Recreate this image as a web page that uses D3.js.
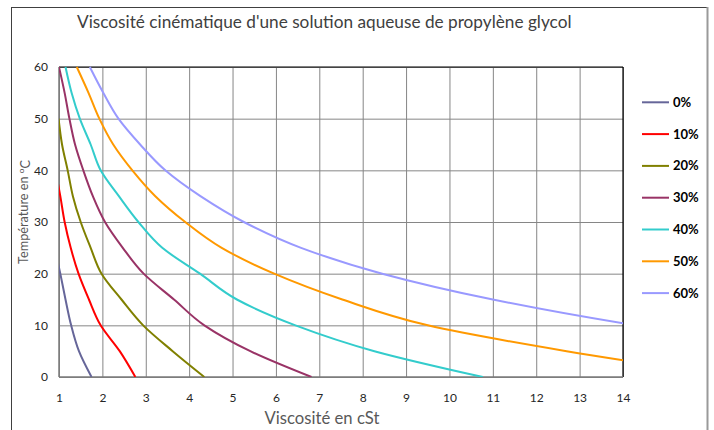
<!DOCTYPE html>
<html><head><meta charset="utf-8">
<script src="https://cdn.jsdelivr.net/npm/d3@7"></script>
<style>
html,body{margin:0;padding:0;background:#fff;}
svg{display:block;font-family:Lato, "Open Sans", sans-serif;}
</style></head>
<body>
<svg id="chart" width="714" height="430"></svg>
<script>
// ---------- data ----------
const temperatures = [0, 5, 10, 15, 20, 25, 30, 35, 40, 45, 50, 55, 60];
const seriesNames = ["0%", "10%", "20%", "30%", "40%", "50%", "60%"];
const seriesColors = ["#666699", "#ff0000", "#808000", "#993366", "#33cccc", "#ff9900", "#9999ff"];
const visc0  = [1.75, 1.46, 1.28, 1.15, 1.03, 0.90, null, null, null, null, null, null, null];
const visc10 = [2.76, 2.40, 1.96, 1.69, 1.45, 1.27, 1.13, 1.03, 0.92, null, null, null, null];
const visc20 = [4.35, 3.62, 2.94, 2.44, 1.98, 1.73, 1.50, 1.32, 1.20, 1.07, 0.99, null, null];
const visc30 = [6.82, 5.41, 4.35, 3.65, 2.95, 2.47, 2.06, 1.78, 1.56, 1.37, 1.24, 1.13, 1.00];
const visc40 = [10.77, 8.27, 6.45, 5.10, 4.25, 3.38, 2.83, 2.38, 1.96, 1.73, 1.48, 1.29, 1.15];
const visc50 = [16.6, 12.7, 9.5, 7.53, 5.96, 4.75, 3.91, 3.22, 2.69, 2.25, 1.93, 1.68, 1.41];
const visc60 = [24.0, 18.5, 14.3, 11.0, 8.45, 6.58, 5.26, 4.26, 3.45, 2.87, 2.37, 2.02, 1.71];
const xTicks = [1, 2, 3, 4, 5, 6, 7, 8, 9, 10, 11, 12, 13, 14];
const yTicks = [0, 10, 20, 30, 40, 50, 60];
const titleText = "Viscosité cinématique d'une solution aqueuse de propylène glycol";
const xTitleText = "Viscosité en cSt";
const yTitleText = "Température en ";

const allSeries = [visc0, visc10, visc20, visc30, visc40, visc50, visc60];

// ---------- layout ----------
const svg = d3.select("#chart");
const plot = {left: 59, right: 623, top: 67, bottom: 377};
const x = d3.scaleLinear().domain([1, 14]).range([plot.left, plot.right]);
const y = d3.scaleLinear().domain([0, 60]).range([plot.bottom, plot.top]);

// outer frame
svg.append("rect").attr("x", 11.5).attr("y", 7.5).attr("width", 696).attr("height", 440)
  .attr("fill", "#fff").attr("stroke", "#404040").attr("stroke-width", 1);
svg.append("line").attr("x1", 707.5).attr("x2", 707.5).attr("y1", 7).attr("y2", 430)
  .attr("stroke", "#9a9a9a").attr("stroke-width", 2);

function fitFont(sel, target, base) {
  sel.style("font-size", base + "px");
  const w = sel.node().getComputedTextLength();
  sel.style("font-size", (base * target / w) + "px");
}

// title
const title = svg.append("text").attr("x", 77).attr("y", 28)
  .attr("fill", "#404040").text(titleText);
fitFont(title, 495, 17);

// grid
const gx = svg.append("g").attr("transform", `translate(0,${plot.bottom})`)
  .call(d3.axisBottom(x).tickValues(xTicks).tickSize(-(plot.bottom - plot.top)).tickFormat(""));
gx.select(".domain").remove();
gx.selectAll("line").attr("stroke", "#868686").attr("stroke-width", 1);
const gy = svg.append("g").attr("transform", `translate(${plot.left},0)`)
  .call(d3.axisLeft(y).tickValues(yTicks).tickSize(-(plot.right - plot.left)).tickFormat(""));
gy.select(".domain").remove();
gy.selectAll("line").attr("stroke", "#868686").attr("stroke-width", 1);

// plot borders
svg.append("line").attr("x1", plot.left).attr("x2", plot.right).attr("y1", plot.top).attr("y2", plot.top)
  .attr("stroke", "#000").attr("stroke-width", 1.2);
svg.append("line").attr("x1", plot.right).attr("x2", plot.right).attr("y1", plot.top).attr("y2", plot.bottom)
  .attr("stroke", "#000").attr("stroke-width", 1.2);
svg.append("line").attr("x1", plot.left).attr("x2", plot.left).attr("y1", plot.top).attr("y2", plot.bottom)
  .attr("stroke", "#7a7a7a").attr("stroke-width", 1.5);
svg.append("line").attr("x1", plot.left).attr("x2", plot.right).attr("y1", plot.bottom).attr("y2", plot.bottom)
  .attr("stroke", "#7a7a7a").attr("stroke-width", 1.5);

// axis labels
const ax = svg.append("g").attr("transform", `translate(0,${plot.bottom})`)
  .call(d3.axisBottom(x).tickValues(xTicks).tickSize(0).tickPadding(16).tickFormat(d3.format("d")));
ax.select(".domain").remove();
ax.selectAll("text").attr("fill", "#262626").style("font-size", "12px").style("font-family", "Lato, sans-serif");
const ay = svg.append("g").attr("transform", `translate(${plot.left},0)`)
  .call(d3.axisLeft(y).tickValues(yTicks).tickSize(0).tickPadding(11).tickFormat(d3.format("d")));
ay.select(".domain").remove();
ay.selectAll("text").attr("fill", "#262626").style("font-size", "12px").style("font-family", "Lato, sans-serif");

// axis titles
const xt = svg.append("text").attr("x", 322).attr("y", 424).attr("text-anchor", "middle")
  .attr("fill", "#595959").text(xTitleText);
fitFont(xt, 115, 16);
const yt = svg.append("text").attr("transform", "translate(28,212) rotate(-90)")
  .attr("text-anchor", "middle").attr("fill", "#595959");
yt.append("tspan").text(yTitleText);
yt.append("tspan").attr("dy", "-0.45em").style("font-size", "0.65em").text("o");
yt.append("tspan").attr("dy", "0.45em").text("C");
fitFont(yt, 104, 14);

// clip
svg.append("clipPath").attr("id", "clip").append("rect")
  .attr("x", plot.left).attr("y", plot.top - 2)
  .attr("width", plot.right - plot.left).attr("height", plot.bottom - plot.top + 2);

const line = d3.line()
  .defined(d => d.v != null)
  .curve(d3.curveMonotoneY)
  .x(d => x(d.v)).y(d => y(d.t));

const lines = svg.append("g").attr("clip-path", "url(#clip)");
allSeries.forEach((vals, i) => {
  const pts = temperatures.map((t, k) => ({t: t, v: vals[k]}));
  lines.append("path").datum(pts).attr("d", line)
    .attr("fill", "none").attr("stroke", seriesColors[i]).attr("stroke-width", 2)
    .attr("stroke-linejoin", "round");
});

// legend
const legend = svg.append("g");
seriesNames.forEach((name, i) => {
  const yy = 102.3 + i * 31.8;
  legend.append("line").attr("x1", 642).attr("x2", 669).attr("y1", yy).attr("y2", yy)
    .attr("stroke", seriesColors[i]).attr("stroke-width", 2);
  legend.append("text").attr("x", 673).attr("y", yy).attr("dy", "0.35em")
    .style("font-size", "13px").style("font-weight", "bold").attr("fill", "#000").text(name);
});
</script>
</body></html>
